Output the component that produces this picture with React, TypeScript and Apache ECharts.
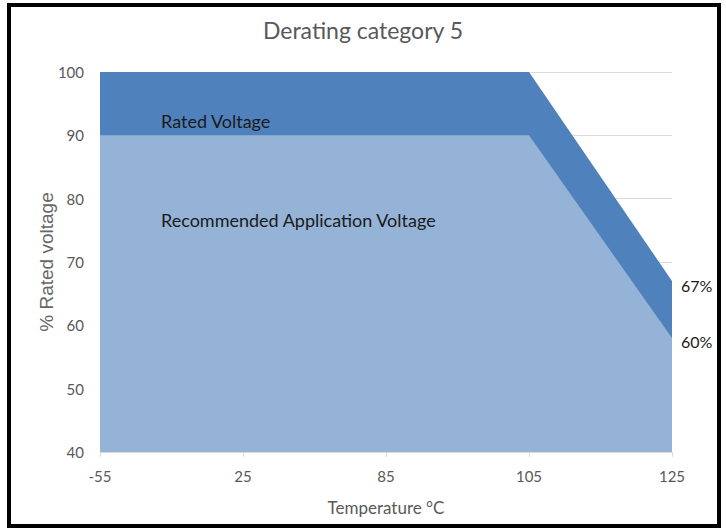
import React, { useEffect, useRef } from "react";
import * as echarts from "echarts";

const categories = ["-55", "25", "85", "105", "125"];
const ratedVoltage = [100, 100, 100, 100, 67];
const recommendedVoltage = [90, 90, 90, 90, 58];
const endLabels = { rated: "67%", recommended: "60%" };
const yTicks = { min: 40, max: 100, interval: 10 };

const FONT = "Lato, 'Open Sans', sans-serif";
const GRAY = "#595959";

export default function App() {
  const ref = useRef<HTMLDivElement>(null);
  useEffect(() => {
    if (!ref.current) return;
    const chart = echarts.init(ref.current, null, { renderer: "svg" });
    const lastLabel = (text: string, offsetY: number) => ({
      show: true,
      distance: 9,
      offset: [0, offsetY],
      formatter: () => text,
      color: "#1a1a1a",
      fontFamily: FONT,
      fontSize: 16,
    });
    chart.setOption({
      animation: false,
      backgroundColor: "#ffffff",
      title: {
        text: "Derating category 5",
        left: "center",
        top: 13,
        textStyle: { color: GRAY, fontFamily: FONT, fontSize: 23, fontWeight: "normal" },
      },
      grid: { left: 100, right: 54, top: 72, bottom: 77 },
      xAxis: {
        type: "category",
        data: categories,
        boundaryGap: false,
        name: "Temperature °C",
        nameLocation: "middle",
        nameGap: 47,
        nameTextStyle: { color: GRAY, fontFamily: FONT, fontSize: 17 },
        axisLine: { lineStyle: { color: "#D9D9D9" } },
        axisTick: { show: true, length: 5, lineStyle: { color: "#D9D9D9" } },
        axisLabel: { color: GRAY, fontFamily: FONT, fontSize: 15, margin: 16 },
      },
      yAxis: {
        type: "value",
        min: yTicks.min,
        max: yTicks.max,
        interval: yTicks.interval,
        name: "% Rated voltage",
        nameLocation: "middle",
        nameGap: 44,
        nameMoveOverlap: false,
        nameTextStyle: { color: "#666666", fontFamily: "'Liberation Sans', Arial, sans-serif", fontSize: 19 },
        axisLine: { show: false },
        axisTick: { show: false },
        axisLabel: { color: GRAY, fontFamily: FONT, fontSize: 15, margin: 16 },
        splitLine: { lineStyle: { color: "#D9D9D9" } },
      },
      series: [
        {
          name: "Rated Voltage",
          type: "line",
          data: ratedVoltage,
          symbol: "none",
          lineStyle: { width: 0 },
          areaStyle: { color: "#4F81BD", opacity: 1, origin: "start" },
          endLabel: lastLabel(endLabels.rated, 4),
          z: 2,
        },
        {
          name: "Recommended Application Voltage",
          type: "line",
          data: recommendedVoltage,
          symbol: "none",
          lineStyle: { width: 0 },
          areaStyle: { color: "#95B3D7", opacity: 1, origin: "start" },
          endLabel: lastLabel(endLabels.recommended, 3),
          z: 3,
        },
      ],
      graphic: [
        {
          type: "text",
          left: 161,
          top: 112,
          z: 10,
          style: { text: "Rated Voltage", fill: "#1a1a1a", font: `18px ${FONT}` },
        },
        {
          type: "text",
          left: 161,
          top: 211,
          z: 10,
          style: { text: "Recommended Application Voltage", fill: "#1a1a1a", font: `18px ${FONT}` },
        },
        {
          type: "rect",
          z: 20,
          shape: { x: 9, y: 5, width: 710, height: 521 },
          style: { fill: "none", stroke: "#000", lineWidth: 4 },
        },
      ],
    });
    return () => chart.dispose();
  }, []);
  return (
    <div
      ref={ref}
      style={{ position: "absolute", left: 0, top: 0, width: 726, height: 529 }}
    />
  );
}
